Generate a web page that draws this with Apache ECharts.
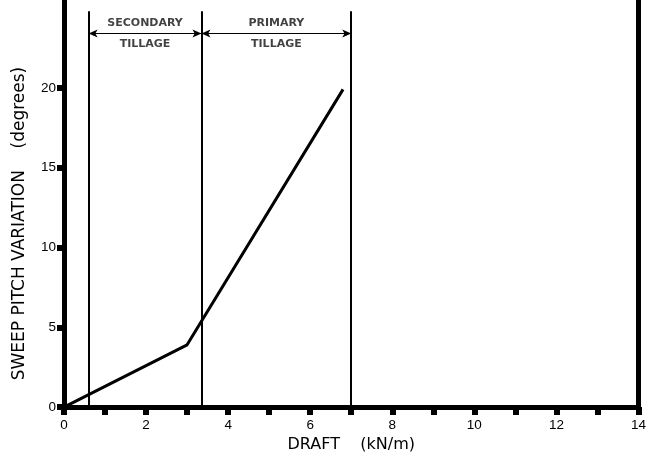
<!DOCTYPE html>
<html><head><meta charset="utf-8">
<script src="https://cdn.jsdelivr.net/npm/echarts@6/dist/echarts.min.js"></script>
<style>html,body{margin:0;padding:0;background:#fff}#c{width:649px;height:458px}</style>
</head><body><div id="c"></div>
<script>
// Data
const draftX = [0, 3.0, 6.8];
const pitchY = [0, 3.9, 19.9];
const boundaries = [0.6, 3.35, 7.0];
const boundaryTop = 24.8;
const arrowY = 23.4;
const zoneNames = ['SECONDARY\nTILLAGE', 'PRIMARY\nTILLAGE'];
const xTickValues = [0,1,2,3,4,5,6,7,8,9,10,11,12,13,14];
const xLabelValues = [0,2,4,6,8,10,12,14];
const yTickValues = [0,5,10,15,20];

const font = 'Liberation Sans, Arial, Helvetica, sans-serif';
const wideFont = 'DejaVu Sans, Liberation Sans, sans-serif';
const chart = echarts.init(document.getElementById('c'));

const vLines = boundaries.map(b => [{coord:[b,0]},{coord:[b,boundaryTop]}]);
const arrows = [];
const labelPts = [];
for (let i = 0; i < boundaries.length - 1; i++) {
  arrows.push([{coord:[boundaries[i], arrowY]},{coord:[boundaries[i+1], arrowY]}]);
  labelPts.push({value:[(boundaries[i]+boundaries[i+1])/2, arrowY], name: zoneNames[i]});
}

chart.setOption({
  animation:false,
  grid:{left:64, right:9, top:0, bottom:43},
  xAxis:{type:'value', min:0, max:14,
    name:'DRAFT    (kN/m)', nameLocation:'middle', nameGap:28,
    nameTextStyle:{fontFamily:wideFont, fontSize:16, color:'#000'},
    axisLine:{lineStyle:{color:'#000', width:5}},
    axisTick:{show:true, customValues:xTickValues, length:8, lineStyle:{width:6,color:'#000'}},
    axisLabel:{customValues:xLabelValues, margin:11, fontFamily:font, fontSize:13.5, color:'#000'},
    splitLine:{show:false}},
  yAxis:[{type:'value', min:0, max:25.5,
    name:'SWEEP PITCH VARIATION    (degrees)', nameLocation:'middle', nameGap:36,
    nameTextStyle:{fontFamily:wideFont, fontSize:17, color:'#000', padding:[0,40,0,0]},
    axisLine:{show:true, lineStyle:{color:'#000', width:5}},
    axisTick:{show:true, customValues:yTickValues, length:7, lineStyle:{width:6,color:'#000'}},
    axisLabel:{customValues:yTickValues, margin:8, fontFamily:font, fontSize:13.5, color:'#000'},
    splitLine:{show:false}},
   {type:'value', min:0, max:25.5, position:'right',
    axisLine:{show:true, lineStyle:{color:'#000', width:5}},
    axisTick:{show:false}, axisLabel:{show:false}, splitLine:{show:false}}],
  series:[
    {type:'line', data: draftX.map((x,i)=>[x,pitchY[i]]), symbol:'none',
     lineStyle:{color:'#000', width:3}, z:5,
     markLine:{silent:true, symbol:'none', label:{show:false},
       lineStyle:{color:'#000', width:2, type:'solid'}, data:vLines}},
    {type:'line', data:[], symbol:'none',
     markLine:{silent:true, symbol:['arrow','arrow'], symbolSize:[6,9], label:{show:false},
       lineStyle:{color:'#000', width:1, type:'solid'}, data:arrows}},
    {type:'scatter', data:labelPts, symbolSize:0,
     label:{show:true, position:'inside', formatter:p=>p.name, fontFamily:wideFont, fontWeight:'bold',
       fontSize:11, color:'#111', lineHeight:21, align:'center', verticalAlign:'middle'}}
  ]
});
</script></body></html>
